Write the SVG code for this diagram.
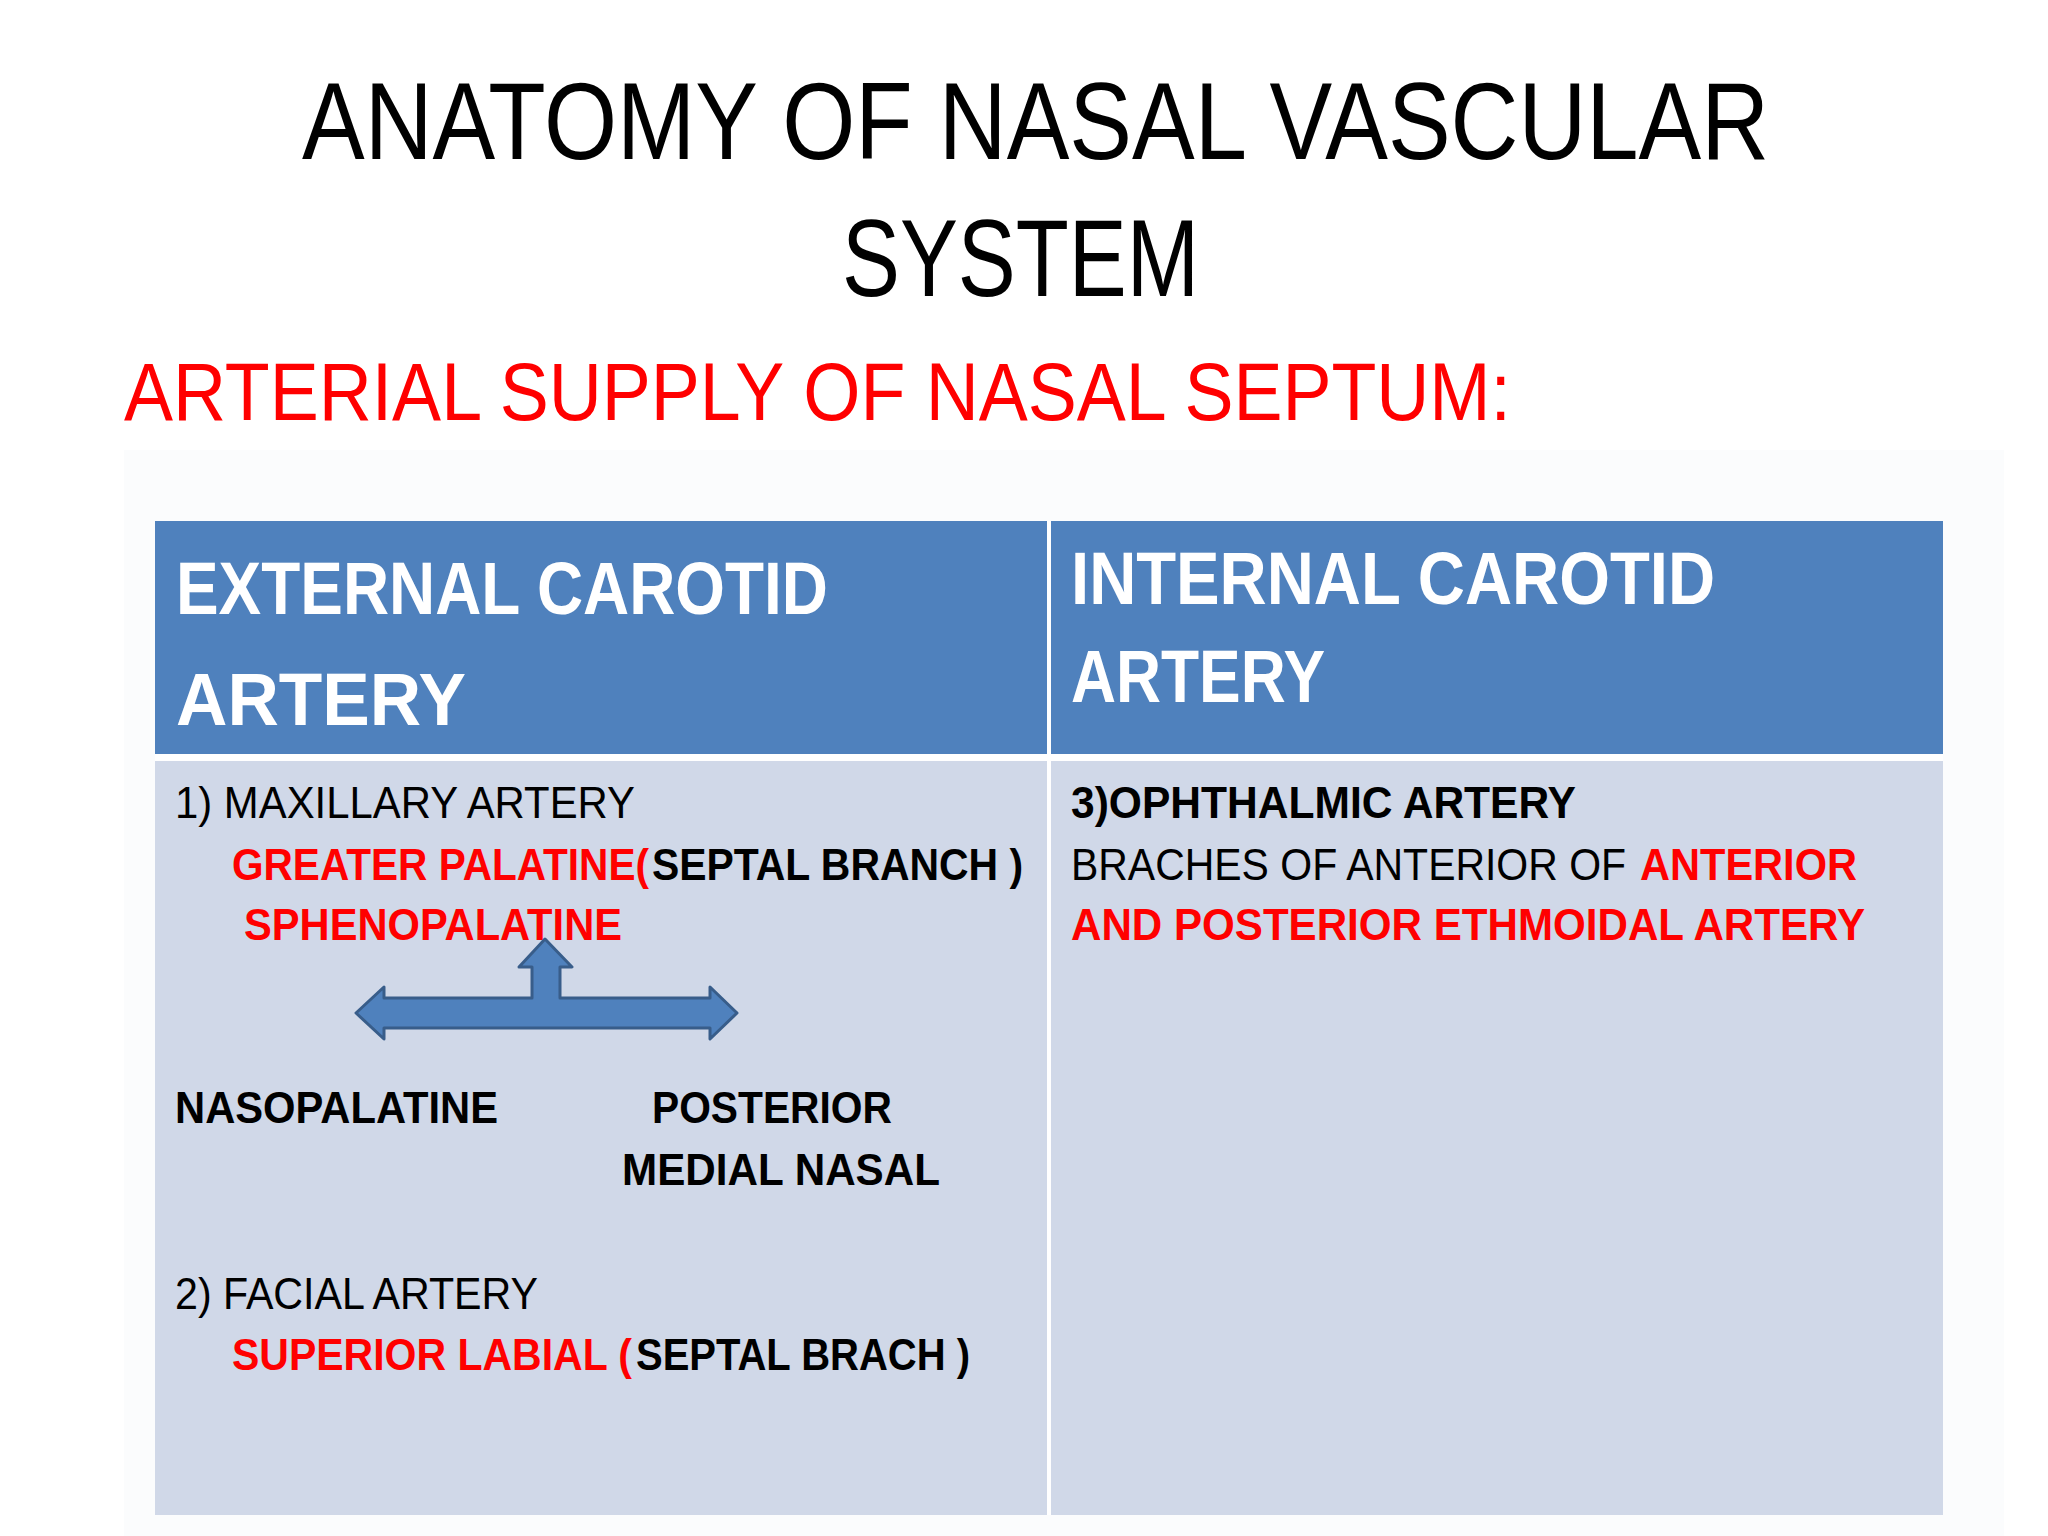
<svg xmlns="http://www.w3.org/2000/svg" width="2048" height="1536" viewBox="0 0 2048 1536">
<style>
text{font-family:"Liberation Sans",Arial,sans-serif}
.t{font-size:109px;fill:#000}
.sub{font-size:82px;fill:#ff0000}
.h{font-size:74px;font-weight:bold;fill:#fff}
.b{font-size:44px;fill:#000}
.bb{font-size:44px;font-weight:bold;fill:#000}
.r{font-size:44px;font-weight:bold;fill:#ff0000}
</style>
<rect width="2048" height="1536" fill="#fff"/>
<rect x="124" y="450" width="1880" height="1086" fill="#fbfcfd"/>
<g id="title">
<text class="t" x="302" y="159" textLength="1467" lengthAdjust="spacingAndGlyphs">ANATOMY OF NASAL VASCULAR</text>
<text class="t" x="842" y="296" textLength="357" lengthAdjust="spacingAndGlyphs">SYSTEM</text>
<text class="sub" x="124" y="420" textLength="1387" lengthAdjust="spacingAndGlyphs">ARTERIAL SUPPLY OF NASAL SEPTUM:</text>
</g>
<g id="table">
<rect x="155" y="521" width="1788" height="994" fill="#fff"/>
<rect x="155" y="521" width="892" height="233" fill="#4f81bd"/>
<rect x="1051" y="521" width="892" height="233" fill="#4f81bd"/>
<rect x="155" y="761" width="892" height="754" fill="#d0d8e8"/>
<rect x="1051" y="761" width="892" height="754" fill="#d0d8e8"/>
</g>
<g id="header-left">
<text class="h" x="176" y="614" textLength="652" lengthAdjust="spacingAndGlyphs">EXTERNAL CAROTID</text>
<text class="h" x="176" y="725" textLength="290" lengthAdjust="spacingAndGlyphs">ARTERY</text>
</g>
<g id="header-right">
<text class="h" x="1071" y="604" textLength="644" lengthAdjust="spacingAndGlyphs">INTERNAL CAROTID</text>
<text class="h" x="1071" y="702" textLength="254" lengthAdjust="spacingAndGlyphs">ARTERY</text>
</g>
<g id="left-body">
<text class="b" x="175" y="818" textLength="460" lengthAdjust="spacingAndGlyphs">1) MAXILLARY ARTERY</text>
<text class="r" x="232" y="880" textLength="417" lengthAdjust="spacingAndGlyphs">GREATER PALATINE(</text>
<text class="bb" x="652" y="880" textLength="371" lengthAdjust="spacingAndGlyphs">SEPTAL BRANCH )</text>
<text class="r" x="244" y="940" textLength="378" lengthAdjust="spacingAndGlyphs">SPHENOPALATINE</text>
<text class="bb" x="175" y="1123" textLength="323" lengthAdjust="spacingAndGlyphs">NASOPALATINE</text>
<text class="bb" x="652" y="1123" textLength="240" lengthAdjust="spacingAndGlyphs">POSTERIOR</text>
<text class="bb" x="622" y="1185" textLength="318" lengthAdjust="spacingAndGlyphs">MEDIAL NASAL</text>
<text class="b" x="175" y="1309" textLength="363" lengthAdjust="spacingAndGlyphs">2) FACIAL ARTERY</text>
<text class="r" x="232" y="1370" textLength="400" lengthAdjust="spacingAndGlyphs">SUPERIOR LABIAL (</text>
<text class="bb" x="636" y="1370" textLength="334" lengthAdjust="spacingAndGlyphs">SEPTAL BRACH )</text>
</g>
<g id="arrow">
<path d="M356,1013 L384,987 L384,998 L532,998 L532,967 L519,967 L545,939 L572,967 L560,967 L560,998 L710,998 L710,987 L737,1013 L710,1039 L710,1028 L384,1028 L384,1039 Z" fill="#4f81bd" stroke="#385d8a" stroke-width="3" stroke-linejoin="round"/>
</g>
<g id="right-body">
<text class="bb" x="1071" y="818" textLength="505" lengthAdjust="spacingAndGlyphs">3)OPHTHALMIC ARTERY</text>
<text class="b" x="1071" y="880" textLength="555" lengthAdjust="spacingAndGlyphs">BRACHES OF ANTERIOR OF</text>
<text class="r" x="1640" y="880" textLength="217" lengthAdjust="spacingAndGlyphs">ANTERIOR</text>
<text class="r" x="1071" y="940" textLength="794" lengthAdjust="spacingAndGlyphs">AND POSTERIOR ETHMOIDAL ARTERY</text>
</g>
</svg>
